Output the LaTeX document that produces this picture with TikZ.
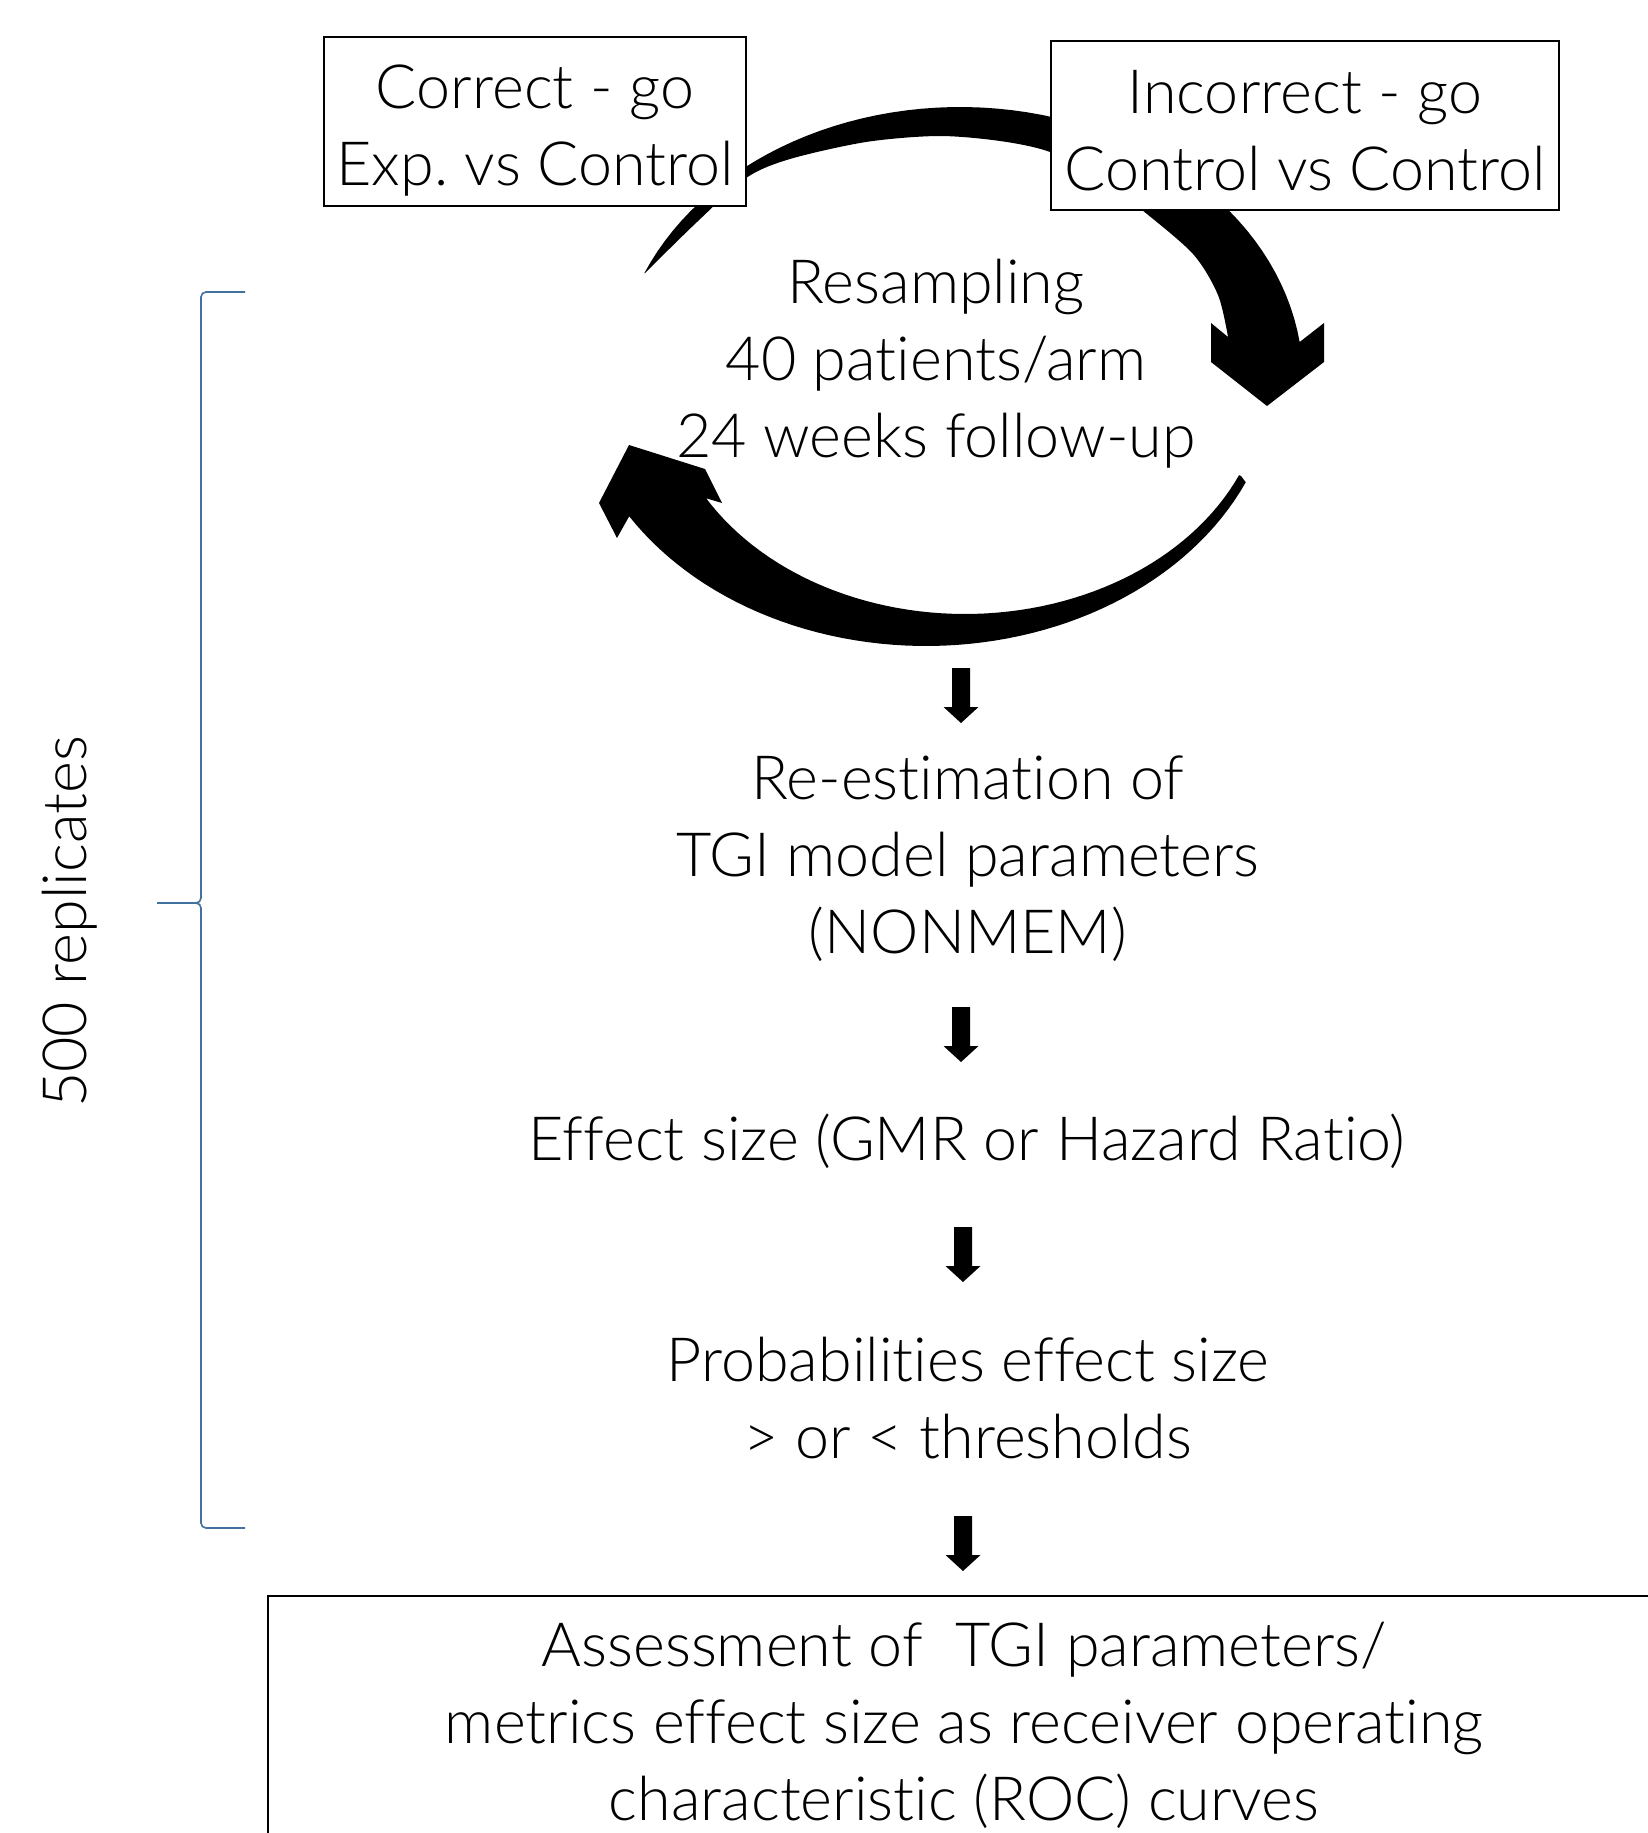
\documentclass[tikz,border=0pt]{standalone}
\usepackage{fontspec}
\setmainfont{Lato}[UprightFont={* Light}, Ligatures={NoCommon}]
\definecolor{bracecol}{RGB}{65,113,156}
\begin{document}
\begin{tikzpicture}[x=1pt,y=-1pt,
  txt/.style={align=center, font=\fontsize{61}{77}\selectfont, inner sep=0pt},
  framebox/.style={draw, line width=2pt, fill=white, inner sep=0pt},
  blockdown/.pic={\fill (-9,0) -- (9,0) -- (9,39) -- (17.5,39) -- (0,55) -- (-17.5,39) -- (-9,39) -- cycle;}
]
\clip (0,0) rectangle (1648,1833);
\fill[white] (0,0) rectangle (1648,1833);

% upper circular arrow (clockwise, head pointing down at right)
\fill[black] plot[domain=203:352, samples=60, variable=\t] ({960+343*cos(\t)}, {380+273*sin(\t)})
  -- (1324,323) -- (1324,362) -- (1267,406) -- (1211,362) -- (1211,323) -- (1228,337)
  -- plot[smooth] coordinates {(1228,337) (1218,295) (1193,254) (1142,210) (1100,178) (1050,152) (1000,141) (938,136) (866,142) (790,159) (746,178) (697,222) (645,273)} -- cycle;

% lower circular arrow (head pointing up at left)
\fill[black] (1241,476) -- plot[domain=24:148, samples=60, variable=\t] ({926+350*cos(\t)}, {370+276*sin(\t)})
  -- (617,538) -- (599,503) -- (629,445) -- (705,469) -- (722,503) -- (702,497)
  -- plot[domain=150:24, samples=60, variable=\t] ({965+300*cos(\t)}, {380+234*sin(\t)}) -- cycle;

% top boxes
\node[framebox, minimum width=422, minimum height=169] (boxA) at (535,121.5) {};
\node[txt] (textA) at (535,132) {\strut Correct - go\\Exp.\ vs Control\strut};
\node[framebox, minimum width=508, minimum height=169] (boxB) at (1305,125.5) {};
\node[txt] (textB) at (1305,137) {\strut Incorrect - go\\Control vs Control\strut};

% centre texts
\node[txt] (resamp) at (936,365) {\strut Resampling\\40 patients/arm\\24 weeks follow-up\strut};
\node[txt] (reest) at (968,861) {\strut Re-estimation of\\TGI model parameters\\(NONMEM)\strut};
\node[txt] (effect) at (967,1145) {\strut Effect size (GMR or Hazard Ratio)\strut};
\node[txt] (prob) at (968,1405) {\strut Probabilities effect size\\\textgreater{} or \textless{} thresholds\strut};

% bottom box (runs past the page edge)
\draw[line width=2pt] (268,1596) rectangle (1720,1900);
\node[txt] (assess) at (964,1728) {\strut Assessment of\ \ TGI parameters/\\metrics effect size as receiver operating\\characteristic (ROC) curves\strut};

% small block arrows
\pic at (961,668) {blockdown};
\pic at (961,1007) {blockdown};
\pic at (963,1227) {blockdown};
\pic at (963,1516) {blockdown};

% bracket
\draw[bracecol, line width=1.6pt, rounded corners=5pt] (245,292) -- (201,292) -- (201,903) -- (157,903);
\draw[bracecol, line width=1.6pt, rounded corners=5pt] (245,1528) -- (201,1528) -- (201,903) -- (175,903);
\node[txt, rotate=90, anchor=base] (reps) at (86,922) {500 replicates};
\end{tikzpicture}
\end{document}
